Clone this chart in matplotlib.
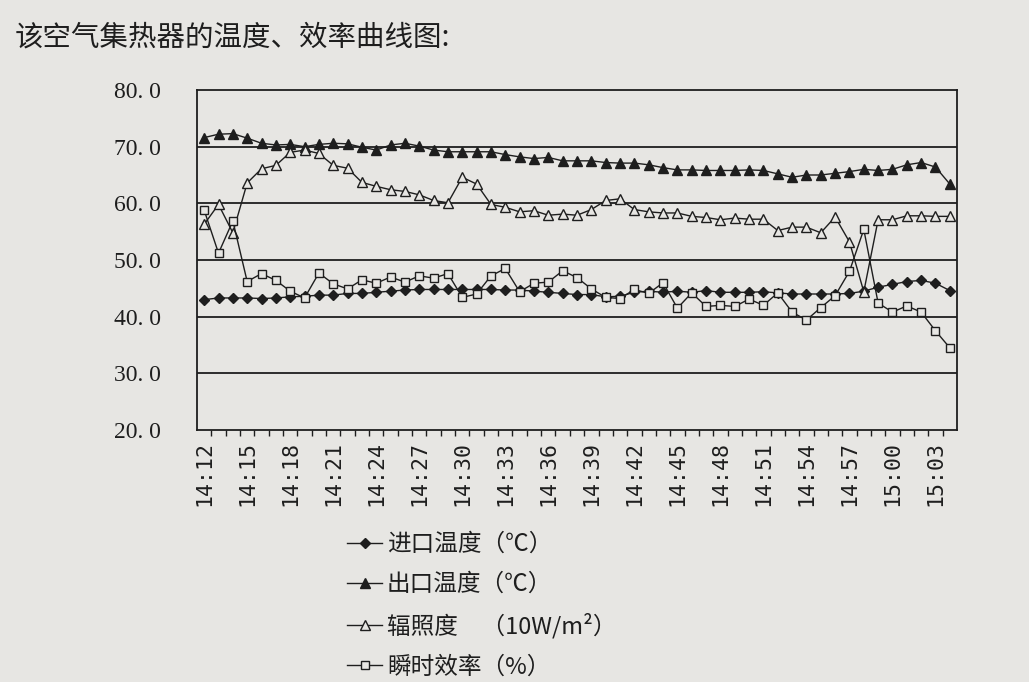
import numpy as np
import matplotlib
matplotlib.use("Agg")
import matplotlib.pyplot as plt
from matplotlib.ticker import FixedLocator, NullFormatter

# --- data (one point per minute, 14:12 .. 15:04) ---
times = ["14:%02d" % m for m in range(12, 60)] + ["15:%02d" % m for m in range(0, 5)]

inlet = [43.0, 43.3, 43.3, 43.3, 43.2, 43.3, 43.5, 43.6, 43.8, 43.8,
         44.1, 44.1, 44.3, 44.5, 44.7, 44.8, 44.8, 44.8, 44.8, 44.8,
         44.8, 44.7, 44.7, 44.5, 44.3, 44.1, 43.9, 43.9, 43.5, 43.6,
         44.3, 44.5, 44.3, 44.5, 44.3, 44.6, 44.3, 44.3, 44.3, 44.4,
         44.2, 44.0, 44.0, 44.0, 44.0, 44.1, 44.5, 45.2, 45.7, 46.2,
         46.4, 45.9, 44.6]

outlet = [71.6, 72.2, 72.3, 71.5, 70.6, 70.3, 70.4, 70.0, 70.4, 70.6,
          70.5, 69.9, 69.4, 70.3, 70.6, 70.1, 69.4, 69.1, 69.1, 69.1,
          69.1, 68.6, 68.2, 67.9, 68.1, 67.5, 67.5, 67.5, 67.2, 67.1,
          67.1, 66.8, 66.3, 65.9, 65.9, 65.8, 65.8, 65.8, 65.9, 65.8,
          65.2, 64.6, 65.0, 65.0, 65.3, 65.6, 66.0, 65.8, 66.0, 66.8,
          67.2, 66.4, 63.4]

irradiance = [56.3, 59.8, 54.8, 63.6, 66.1, 66.7, 69.0, 69.4, 68.8, 66.7,
              66.2, 63.7, 63.0, 62.4, 62.1, 61.5, 60.5, 60.1, 64.6, 63.4,
              59.8, 59.3, 58.5, 58.7, 57.9, 58.1, 57.9, 58.9, 60.5, 60.8,
              58.9, 58.5, 58.3, 58.3, 57.7, 57.5, 57.1, 57.4, 57.2, 57.2,
              55.2, 55.8, 55.8, 54.8, 57.6, 53.2, 44.4, 57.1, 57.1, 57.8,
              57.8, 57.7, 57.7]

efficiency = [58.8, 51.2, 56.9, 46.2, 47.6, 46.4, 44.5, 43.3, 47.7, 45.8,
              44.9, 46.5, 45.9, 47.0, 46.1, 47.2, 46.8, 47.6, 43.4, 44.0,
              47.2, 48.5, 44.4, 45.9, 46.1, 48.1, 46.9, 44.9, 43.4, 43.2,
              44.8, 44.1, 46.0, 41.5, 44.2, 41.8, 42.0, 41.8, 43.1, 42.0,
              44.2, 40.8, 39.4, 41.6, 43.7, 48.0, 55.4, 42.4, 40.8, 41.9,
              40.8, 37.5, 34.5]

labels = ["进口温度（℃）", "出口温度（℃）", "辐照度　（10W/m²）", "瞬时效率（%）"]
yticks = [20, 30, 40, 50, 60, 70, 80]
ytick_labels = ["20. 0", "30. 0", "40. 0", "50. 0", "60. 0", "70. 0", "80. 0"]

paper = "#e7e6e3"
ink = "#1e1e1e"
cjk = ["Noto Sans CJK SC", "DejaVu Sans"]

fig = plt.figure(figsize=(10.29, 6.82), dpi=100, facecolor=paper)
ax = fig.add_axes([197/1029, 1-430/682, (957-197)/1029, (430-90)/682])
ax.set_facecolor(paper)

x = np.arange(len(times))
ax.plot(x, inlet, color=ink, lw=1.0, marker="D", ms=5, mfc=ink, mec=ink, label=labels[0])
ax.plot(x, outlet, color=ink, lw=1.0, marker="^", ms=7, mfc=ink, mec=ink, label=labels[1])
ax.plot(x, irradiance, color=ink, lw=1.0, marker="^", ms=7, mfc=paper, mec=ink, mew=1.0, label=labels[2])
ax.plot(x, efficiency, color=ink, lw=1.0, marker="s", ms=6, mfc=paper, mec=ink, mew=1.0, label=labels[3])

for v in yticks[1:-1]:
    ax.axhline(v, color=ink, lw=1.3, zorder=0)

ax.set_xlim(-0.5, len(times) - 0.5)
ax.set_ylim(20, 80)
for s in ax.spines.values():
    s.set_color(ink); s.set_linewidth(1.3)

ax.set_yticks(yticks)
ax.set_yticklabels(ytick_labels, fontsize=17, family="Liberation Serif", color=ink)
ax.tick_params(axis="y", length=0, pad=26)

major = list(range(0, len(times), 3))
ax.set_xticks(major)
ax.set_xticklabels([times[i] for i in major], rotation=90, fontsize=15.5,
                   family="DejaVu Sans Mono", color=ink)
ax.xaxis.set_minor_locator(FixedLocator(np.arange(0.5, len(times) - 1, 1.0)))
ax.xaxis.set_minor_formatter(NullFormatter())
ax.tick_params(axis="x", which="major", length=0, pad=8)
ax.tick_params(axis="x", which="minor", length=4, width=1, color=ink, direction="out")

fig.text(15/1029, 1-38/682, "该空气集热器的温度、效率曲线图:", fontsize=20.5,
         family=cjk, color=ink, va="center", ha="left")

leg = fig.legend(loc="upper left", bbox_to_anchor=(335/1029, 1-521/682),
                 frameon=False, prop={"family": cjk, "size": 17},
                 handlelength=1.5, handletextpad=0.2, labelspacing=0.72, borderpad=0)
for t in leg.get_texts():
    t.set_color(ink)

fig.savefig("out.png", dpi=100, facecolor=paper)
